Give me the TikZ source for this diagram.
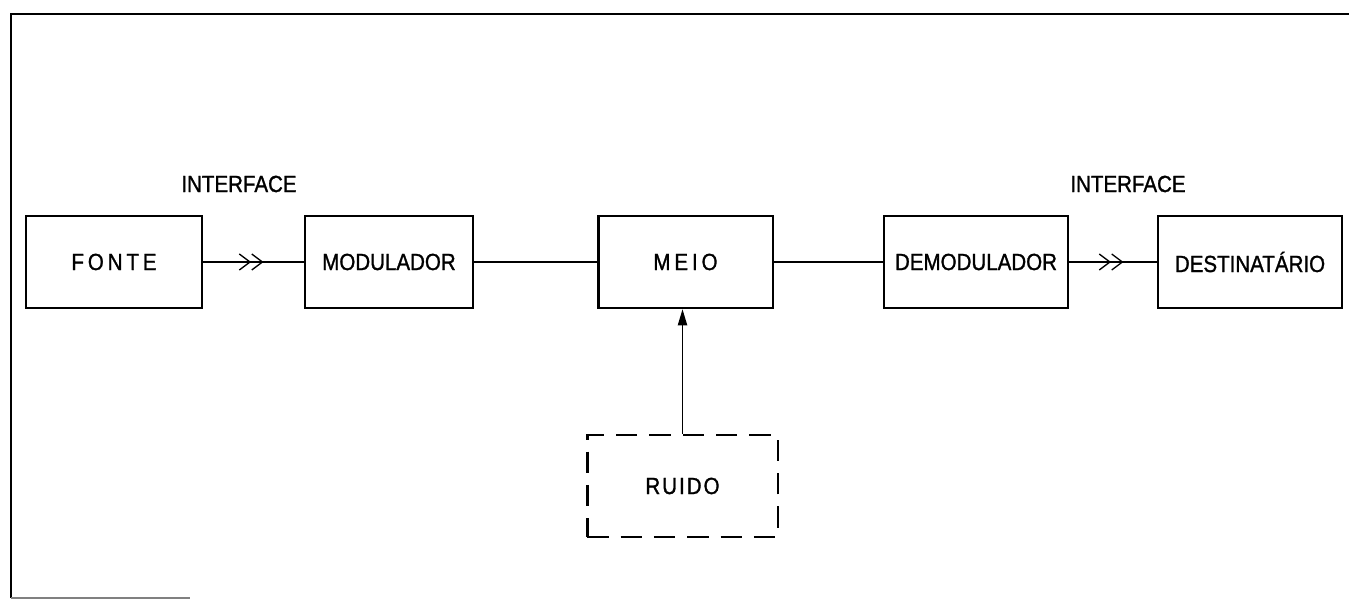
\documentclass[tikz,border=0pt]{standalone}
\usepackage{fontspec}
\setmainfont[FakeStretch=0.88,FakeBold=1.2]{Liberation Sans}
\usetikzlibrary{arrows.meta,decorations.markings}
\begin{document}
\begin{tikzpicture}[x=0.75pt,y=-0.75pt,font=\fontsize{17.5}{20}\selectfont,
  bloco/.style={draw,line width=2pt,minimum height=69pt,inner sep=1pt},
  liga/.style={line width=0.9pt},
  interf/.style={liga,postaction={decorate},decoration={markings,
    mark=at position #1 with {\arrow[line width=1pt]{Straight Barb[length=8pt,width=12pt]Straight Barb[length=8pt,width=12pt]}}}}]
\useasboundingbox (0,0) rectangle (1349,605);
% moldura
\draw[line width=2pt] (1349,14) -- (11,14) -- (11,598);
\draw[line width=0.8pt,gray] (11,598) -- (190,598);
% blocos
\node[bloco,minimum width=132pt] (fonte) at (114,262) {F\,O\,N\,T\,E};
\node[bloco,minimum width=126pt] (modulador) at (389,262) {MODULADOR};
\node[bloco,minimum width=131pt] (meio) at (685.5,262) {M\,E\,I\,O};
\node[bloco,minimum width=138pt] (demodulador) at (976,262) {DEMODULADOR};
\node[bloco,minimum width=138pt] (destino) at (1250,262) {DESTINATÁRIO};
\node[bloco,dash pattern=on 16pt off 9pt,minimum width=143pt,minimum height=76.5pt] (ruido) at (682.5,486) {R\kern1.5pt U\kern1.5pt I\kern1.5pt D\kern1.5pt O};
\node (if1) at (239,184) {INTERFACE};
\node (if2) at (1128,184) {INTERFACE};
% ligacoes
\draw[interf=0.6] (fonte) -- (modulador);
\draw[liga] (modulador) -- (meio);
\draw[liga] (meio) -- (demodulador);
\draw[interf=0.62] (demodulador) -- (destino);
\draw[liga,-{Triangle[length=12pt,width=7pt]}] (ruido.north) -- (ruido.north |- meio.south);
\end{tikzpicture}
\end{document}
